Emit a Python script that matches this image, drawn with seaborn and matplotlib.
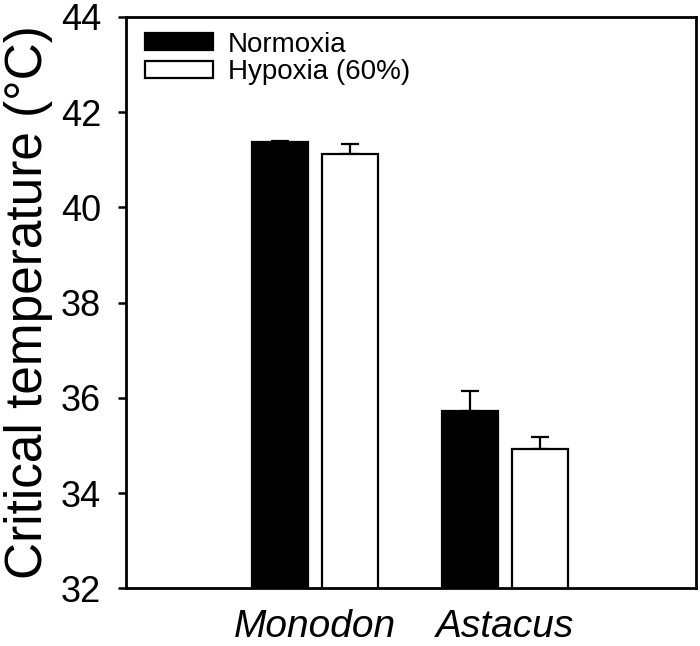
import matplotlib
matplotlib.use("Agg")
import matplotlib.pyplot as plt
import seaborn as sns
import pandas as pd
import numpy as np

species = ["Monodon", "Astacus"]
conditions = ["Normoxia", "Hypoxia (60%)"]
normoxia = [41.38, 35.72]
hypoxia = [41.12, 34.92]
normoxia_err = [0.02, 0.43]
hypoxia_err = [0.21, 0.26]
yticks = [32, 34, 36, 38, 40, 42, 44]

df = pd.DataFrame({
    "species": species * 2,
    "condition": [conditions[0]] * 2 + [conditions[1]] * 2,
    "value": normoxia + hypoxia,
    "err": normoxia_err + hypoxia_err,
})

sns.set_theme(style="ticks")
plt.rcParams["font.family"] = ["Liberation Sans", "DejaVu Sans"]
plt.rcParams["text.color"] = "black"
plt.rcParams["axes.labelcolor"] = "black"
plt.rcParams["xtick.color"] = "black"
plt.rcParams["ytick.color"] = "black"

fig = plt.figure(figsize=(7.0, 6.46), dpi=100)
ax = fig.add_axes([0.18, 0.0893, 0.814, 0.8847])

sns.barplot(data=df, x="species", y="value", hue="condition",
            hue_order=conditions, order=species,
            palette=["black", "white"], edgecolor="black", linewidth=1.6,
            width=0.734, gap=0.2, errorbar=None, ax=ax, zorder=2)

# error bars (upper only) placed at the bar centres drawn by seaborn
for cont, cond in zip(ax.containers, conditions):
    sub = df[df["condition"] == cond].set_index("species").loc[species]
    xs = [p.get_x() + p.get_width() / 2 for p in cont.patches]
    tops = [p.get_height() + p.get_y() for p in cont.patches]
    ax.errorbar(xs, tops, yerr=[np.zeros(len(xs)), sub["err"].values],
                fmt="none", ecolor="black", elinewidth=1.6, capsize=6.5,
                capthick=1.6, zorder=1)

ax.set_ylim(32, 44)
ax.set_yticks(yticks)
ax.set_yticklabels([str(t) for t in yticks])
ax.set_xlim(-0.99, 2.0)
ax.set_xlabel("")
ax.set_ylabel("Critical temperature (°C)", fontsize=37, labelpad=6)
ax.tick_params(axis="y", labelsize=26, width=1.8, length=5.8, direction="out", pad=12)
ax.tick_params(axis="x", labelsize=28, length=0, pad=15)
for lab in ax.get_xticklabels():
    lab.set_fontstyle("italic")
for s in ax.spines.values():
    s.set_visible(True)
    s.set_linewidth(2.0)
    s.set_color("black")

leg = ax.legend(loc="upper left", frameon=False, fontsize=20,
                handlelength=2.45, handleheight=0.58, handletextpad=0.55,
                labelspacing=0.05, borderaxespad=0.35,
                bbox_to_anchor=(-0.0035, 1.0105))
for h in leg.legend_handles:
    h.set_edgecolor("black")
    h.set_linewidth(1.6)

fig.savefig("out.png", dpi=100)
